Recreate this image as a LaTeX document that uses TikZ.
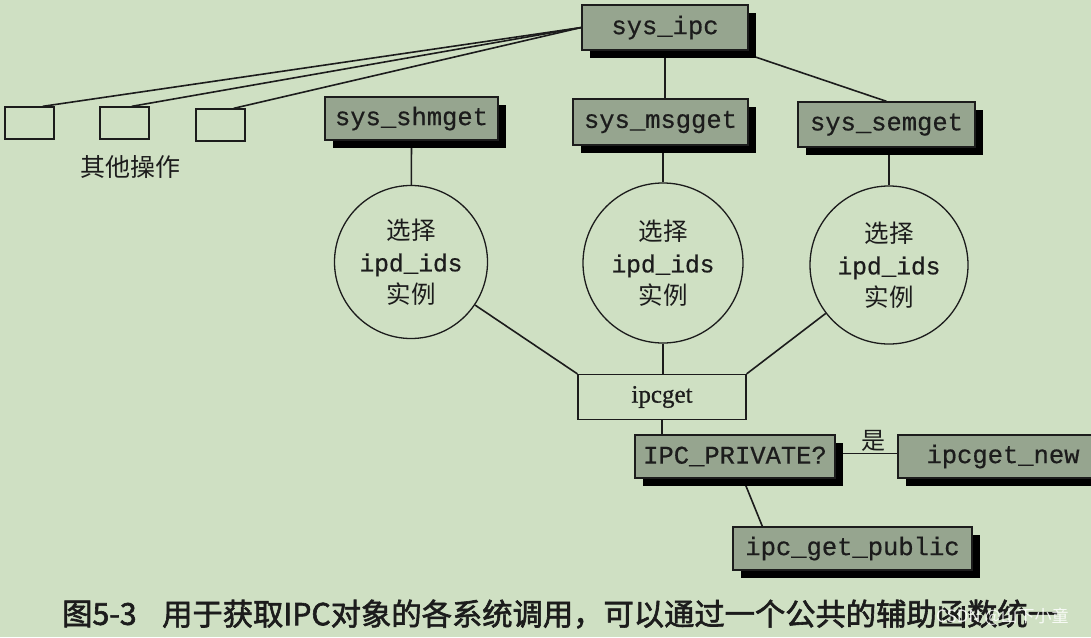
\documentclass[tikz,border=0pt]{standalone}
\usepackage{fontspec}
\usetikzlibrary{shadows}
\newfontfamily\monof[FakeBold=0.6]{Liberation Mono}
\newfontfamily\seriff[FakeBold=0.8]{Liberation Serif}
\newfontfamily\cjk{Noto Sans CJK SC}
\newfontfamily\cjkb[FakeBold=2]{Noto Sans CJK SC}
\definecolor{bg}{RGB}{207,224,195}
\definecolor{boxg}{RGB}{150,165,143}
\definecolor{ink}{RGB}{28,28,28}
\pgfdeclarelayer{bgl}
\pgfsetlayers{bgl,main}
\tikzset{
  sysbox/.style={draw=ink, line width=1.3pt, fill=boxg, text=ink, inner sep=0pt,
    font=\monof\fontsize{25.5}{28}\selectfont,
    drop shadow={shadow xshift=8pt, shadow yshift=-8pt, fill=black, opacity=1}},
  emptybox/.style={draw=ink, line width=1.3pt, minimum width=49pt, minimum height=32pt, inner sep=0pt},
  circ/.style={circle, draw=ink, line width=1.3pt, inner sep=0pt, align=center, text=ink,
    font=\fontsize{24.5}{32}\selectfont},
  conn/.style={draw=ink, line width=1.6pt},
  lbl/.style={text=ink, inner sep=0pt}
}
\begin{document}
\begin{tikzpicture}[x=1pt,y=-1pt]
\useasboundingbox (0,0) rectangle (1091,637);
% nodes
\node[sysbox, minimum width=166pt, minimum height=45pt] (ipc) at (665,27.5) {sys\_ipc};
\node[emptybox] (o1) at (29.5,123) {};
\node[emptybox] (o2) at (124.5,123) {};
\node[emptybox] (o3) at (220.5,125) {};
\node[lbl, font=\cjk\fontsize{25}{28}\selectfont] (oth) at (130,167) {其他操作};
\node[sysbox, minimum width=173pt, minimum height=43pt] (shm) at (411.5,118.5) {sys\_shmget};
\node[sysbox, minimum width=175pt, minimum height=46pt] (msg) at (660.5,122) {sys\_msgget};
\node[sysbox, minimum width=177pt, minimum height=45pt] (sem) at (886.5,124.5) {sys\_semget};
\node[circ, minimum size=153pt] (c1) at (411,262) {{\cjk 选择}\\{\monof ipd\_ids}\\{\cjk 实例}};
\node[circ, minimum size=160pt] (c2) at (663,263) {{\cjk 选择}\\{\monof ipd\_ids}\\{\cjk 实例}};
\node[circ, minimum size=158pt] (c3) at (889,265) {{\cjk 选择}\\{\monof ipd\_ids}\\{\cjk 实例}};
\node[draw=ink, line width=1.3pt, minimum width=168pt, minimum height=45pt, inner sep=0pt, text=ink,
  font=\seriff\fontsize{25}{28}\selectfont] (ipg) at (662,397) {ipcget};
\node[sysbox, minimum width=200pt, minimum height=43pt] (pv) at (735,456.5) {IPC\_PRIVATE?};
\node[sysbox, minimum width=210pt, minimum height=43pt] (new) at (1003,456.5) {ipcget\_new\hspace{29pt}};
\node[sysbox, minimum width=239pt, minimum height=43pt] (pub) at (852.5,548.5) {ipc\_get\_public};
\node[lbl, font=\cjk\fontsize{24}{26}\selectfont] (yes) at (873,441) {是};
% caption
\node[lbl, anchor=west, font=\cjkb\fontsize{30.3}{31}\selectfont] (cap1) at (62,614) {图5-3};
\node[lbl, anchor=west, font=\cjkb\fontsize{30.3}{31}\selectfont] (cap2) at (162,614) {用于获取IPC对象的各系统调用，可以通过一个公共的辅助函数统一};
\node[lbl, anchor=west, text=white, opacity=0.85, font=\cjk\fontsize{17}{18}\selectfont] (wm) at (936,617) {CSDN @山下小童};
% background and connectors
\begin{pgfonlayer}{bgl}
\fill[bg] (0,0) rectangle (1091,637);
\draw[conn] (ipc.west) -- ([xshift=-12pt]o1.north east);
\draw[conn] (ipc.west) -- ([xshift=-18pt]o2.north east);
\draw[conn] (ipc.west) -- ([xshift=-12pt]o3.north east);
\draw[conn] (ipc.south) -- (ipc.south |- msg.north);
\draw[conn] ([xshift=-12pt]ipc.south east) -- (sem.north);
\draw[conn] (shm.south) -- (c1);
\draw[conn] (msg.south -| c2.north) -- (c2);
\draw[conn] (sem.south -| c3.north) -- (c3);
\draw[conn] (c1) -- (ipg.north west);
\draw[conn] (c2) -- (c2.south |- ipg.north);
\draw[conn] (c3) -- (ipg.north east);
\draw[conn] (ipg.south) -- (ipg.south |- pv.north);
\draw[conn] ([yshift=3pt]pv.east) -- ([yshift=3pt]new.west);
\draw[conn] ([xshift=8pt]pv.south) -- ([xshift=30pt]pub.north west);
\end{pgfonlayer}
\end{tikzpicture}
\end{document}
